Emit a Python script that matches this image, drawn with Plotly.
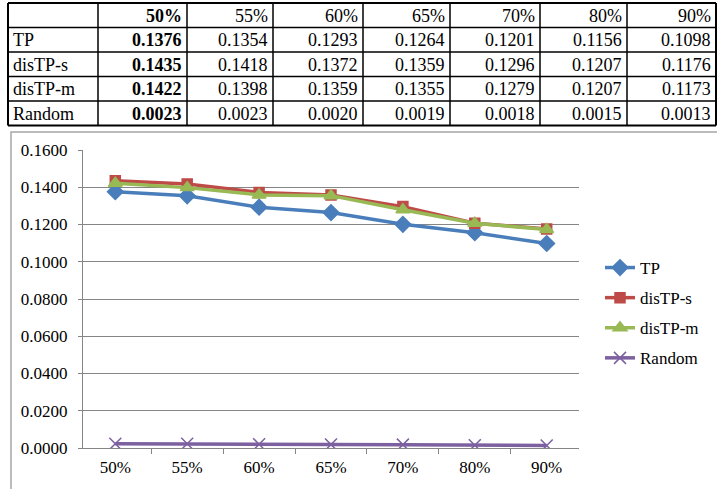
import plotly.graph_objects as go

W, H = 717, 489

thresholds = ["50%", "55%", "60%", "65%", "70%", "80%", "90%"]
tp = [0.1376, 0.1354, 0.1293, 0.1264, 0.1201, 0.1156, 0.1098]
distp_s = [0.1435, 0.1418, 0.1372, 0.1359, 0.1296, 0.1207, 0.1176]
distp_m = [0.1422, 0.1398, 0.1359, 0.1355, 0.1279, 0.1207, 0.1173]
random_ = [0.0023, 0.0023, 0.0020, 0.0019, 0.0018, 0.0015, 0.0013]

series = [
    ("TP", tp, "#4A7EBB", "diamond", 12),
    ("disTP-s", distp_s, "#BE4B48", "square", 10),
    ("disTP-m", distp_m, "#98B954", "triangle-up", 12),
    ("Random", random_, "#7D60A0", "x-thin", 12),
]

serif = "'Times New Roman', 'Liberation Serif', 'DejaVu Serif', serif"


def px_x(v):
    return v / W


def px_y(v):
    return 1 - v / H


fig = go.Figure()

# ---- summary table (grid lines + cell texts) ----
col_edges = [8, 98, 187, 273, 363, 450, 540, 627, 716]
row_edges = [3, 27.5, 52, 76.5, 101, 125.5]

shapes = []
for i, xe in enumerate(col_edges):
    outer = i in (0, len(col_edges) - 1)
    shapes.append(dict(type="line", xref="paper", yref="paper",
                       x0=px_x(xe), x1=px_x(xe),
                       y0=px_y(row_edges[0]), y1=px_y(row_edges[-1]),
                       line=dict(color="black", width=2 if outer else 1.5)))
for j, ye in enumerate(row_edges):
    outer = j in (0, len(row_edges) - 1)
    shapes.append(dict(type="line", xref="paper", yref="paper",
                       x0=px_x(col_edges[0]), x1=px_x(col_edges[-1]),
                       y0=px_y(ye), y1=px_y(ye),
                       line=dict(color="black", width=2 if outer else 1.5)))

annotations = []


def cell_text(text, col, row, bold=False):
    y_mid = (row_edges[row] + row_edges[row + 1]) / 2
    if col == 0:
        x, anchor = col_edges[0] + 3, "left"
    else:
        x, anchor = col_edges[col + 1] - 3, "right"
    annotations.append(dict(
        xref="paper", yref="paper", x=px_x(x), y=px_y(y_mid + 0.5),
        xanchor=anchor, yanchor="middle", showarrow=False,
        text=f"<b>{text}</b>" if bold else text,
        font=dict(family=serif, size=18, color="black"),
    ))


for c, t in enumerate(thresholds):
    cell_text(t, c + 1, 0, bold=(c == 0))
for r, (name, vals, *_rest) in enumerate(series):
    cell_text(name, 0, r + 1)
    for c, v in enumerate(vals):
        cell_text(f"{v:.4f}", c + 1, r + 1, bold=(c == 0))

# ---- chart frame ----
shapes.append(dict(type="rect", xref="paper", yref="paper",
                   x0=px_x(11), x1=px_x(730), y0=px_y(500), y1=px_y(132),
                   line=dict(color="#A6A6A6", width=1.5),
                   fillcolor="rgba(0,0,0,0)", layer="below"))

# ---- line series ----
for name, vals, color, sym, msize in series:
    fig.add_trace(go.Scatter(
        x=thresholds, y=vals, name=name, legendgroup=name,
        mode="lines+markers",
        line=dict(color=color, width=3.5),
        marker=dict(symbol=sym, size=msize, color=color,
                    line=dict(color=color, width=1.5)),
    ))

fig.update_layout(
    width=W, height=H,
    margin=dict(l=0, r=0, t=0, b=0),
    paper_bgcolor="white", plot_bgcolor="white",
    font=dict(family=serif, size=17, color="black"),
    shapes=shapes,
    annotations=annotations,
    xaxis=dict(
        domain=[px_x(83), px_x(579)],
        type="category",
        tickson="boundaries",
        ticks="outside", ticklen=5, tickcolor="#868686", tickwidth=1,
        ticklabelstandoff=3,
        showline=True, linecolor="#868686", linewidth=1.2,
        showgrid=False,
        automargin=False,
        tickfont=dict(family=serif, size=17),
        anchor="y",
    ),
    yaxis=dict(
        domain=[px_y(448), px_y(150)],
        range=[0, 0.16],
        dtick=0.02, tickformat=".4f",
        showline=True, linecolor="#868686", linewidth=1.2,
        ticks="outside", ticklen=4, tickcolor="#868686",
        ticklabelstandoff=7,
        showgrid=True, gridcolor="#868686", gridwidth=1,
        zeroline=False,
        automargin=False,
        tickfont=dict(family=serif, size=17),
        anchor="x",
    ),
    legend=dict(
        x=px_x(600), y=px_y(250), xanchor="left", yanchor="top",
        font=dict(family=serif, size=17),
        tracegroupgap=5,
        bgcolor="rgba(0,0,0,0)",
        itemwidth=30,
    ),
    showlegend=True,
)

fig.write_html("out.html")
